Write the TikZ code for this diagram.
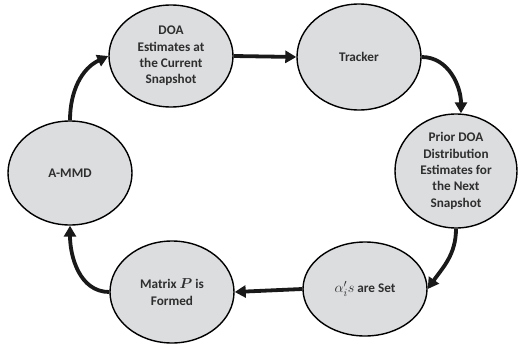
\documentclass[tikz,border=0pt]{standalone}
\usepackage{fontspec}
\setmainfont{Carlito}
\usepackage{amsmath,bm}
\usetikzlibrary{shapes.geometric,arrows.meta}
\definecolor{fillgray}{HTML}{DCDDDF}
\definecolor{txtgray}{HTML}{2E2E2E}
\begin{document}
\begin{tikzpicture}[x=1pt,y=-1pt,
  stage/.style={ellipse,draw=black,line width=1.4pt,fill=fillgray,inner sep=0pt,
    align=center,font=\fontsize{13.2}{16.3}\selectfont\bfseries,text=txtgray},
  flow/.style={line width=3.8pt,draw=black!90,-{Triangle[length=11pt,width=12pt]}}]
\useasboundingbox (0,0) rectangle (519,348);
\node[stage,minimum width=124pt,minimum height=102pt] (doa) at (171,56) {DOA\\Estimates at\\the Current\\Snapshot};
\node[stage,minimum width=124pt,minimum height=106pt] (tracker) at (359,57) {Tracker};
\node[stage,minimum width=122pt,minimum height=114pt] (prior) at (456,171) {Prior DOA\\Distribution\\Estimates for\\the Next\\Snapshot};
\node[stage,minimum width=124pt,minimum height=94pt] (alpha) at (365,289) {{\fontsize{15}{16}\selectfont$\alpha_i' s$} are Set};
\node[stage,minimum width=124pt,minimum height=102pt] (matrix) at (172,292) {Matrix {\fontsize{14.5}{16}\selectfont$\bm{P}$} is\\Formed};
\node[stage,minimum width=124pt,minimum height=104pt] (ammd) at (70,173) {A-MMD};
\draw[flow] (doa.east) -- (tracker.west);
\draw[flow] (tracker.east) to[out=0,in=90] ([xshift=5pt]prior.north);
\draw[flow] (prior.south) to[out=-90,in=55] (alpha.east);
\draw[flow] (alpha.west) -- (matrix.east);
\draw[flow] (matrix.west) to[out=180,in=-90] (ammd.south);
\draw[flow] (ammd.north) to[out=90,in=205] (doa.west);
\end{tikzpicture}
\end{document}
